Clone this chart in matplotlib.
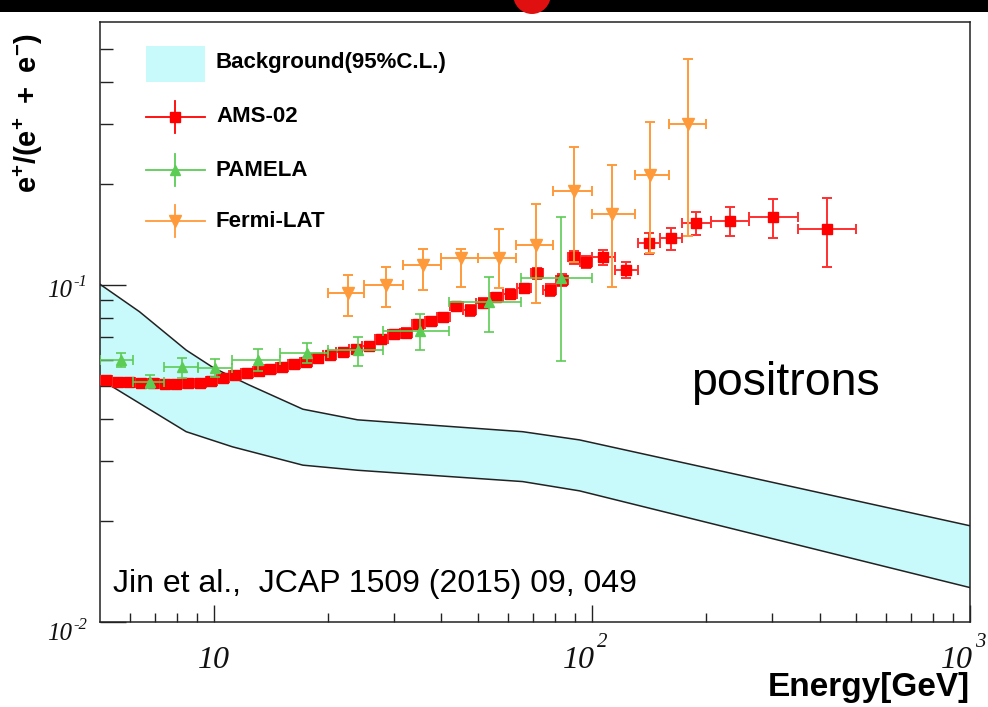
import numpy as np
import matplotlib
matplotlib.use('Agg')
import matplotlib.pyplot as plt
from matplotlib.patches import Rectangle, Ellipse
from matplotlib.ticker import FixedLocator, NullFormatter
from matplotlib.lines import Line2D
import matplotlib.transforms as mtransforms

plt.rcParams['font.family'] = ['Liberation Sans', 'DejaVu Sans']
plt.rcParams['mathtext.fontset'] = 'custom'
plt.rcParams['mathtext.bf'] = 'Liberation Sans:bold'
plt.rcParams['mathtext.rm'] = 'Liberation Sans:bold'
plt.rcParams['mathtext.it'] = 'Liberation Sans:bold:italic'

# ---------------- data ----------------
# Background band (95% C.L.)
bg_upper_E = [5.0, 6.36, 8.45, 10.0, 12.4, 17.2, 24.0, 65.6, 92.7, 1000.0]
bg_upper = [0.1005, 0.0833, 0.0641, 0.0567, 0.0505, 0.0428, 0.0398, 0.0367, 0.0347, 0.0193]
bg_lower_E = [5.0, 5.3, 6.48, 8.45, 11.2, 17.2, 24.0, 65.6, 92.7, 1000.0]
bg_lower = [0.0512, 0.0505, 0.0440, 0.0367, 0.0331, 0.0292, 0.0282, 0.0261, 0.0245, 0.01265]

# AMS-02
ams_edges = [5.00, 5.37, 5.77, 6.19, 6.65, 7.15, 7.68, 8.25, 8.86, 9.51, 10.2, 11.0, 11.8,
             12.7, 13.6, 14.6, 15.7, 16.9, 18.2, 19.5, 21.1, 22.8, 24.7, 26.7, 28.8, 31.1,
             33.5, 36.1, 38.9, 42.1, 45.6, 49.4, 53.6, 58.2, 63.3, 69.0, 74.3, 80.3, 86.5,
             93.0, 100.0, 115.1, 132.1, 151.5, 173.5, 206.0, 260.0, 350.0, 500.0]
ams_val = [0.05225, 0.05171, 0.05154, 0.05136, 0.05108, 0.05083, 0.05101, 0.05119, 0.0513,
           0.05189, 0.05279, 0.05389, 0.05482, 0.05546, 0.05623, 0.05720, 0.05830, 0.05922,
           0.06061, 0.06200, 0.06328, 0.06459, 0.06593, 0.06916, 0.07134, 0.07223, 0.07664,
           0.07823, 0.08013, 0.08665, 0.08401, 0.08844, 0.09182, 0.09404, 0.09763, 0.1083,
           0.09665, 0.1035, 0.1208, 0.1173, 0.1208, 0.1108, 0.1332, 0.1374, 0.1524, 0.1549,
           0.1588, 0.1469]
ams_err = [0.0012] * 10 + [0.0014] * 10 + [0.0018] * 5 + [0.0022] * 5 + [0.003] * 5 + \
          [0.004, 0.004, 0.004, 0.005, 0.005, 0.006, 0.006, 0.0095, 0.0105, 0.012, 0.0155,
           0.021, 0.034]

# PAMELA
pam_lo = [5.0, 6.1, 7.4, 9.1, 11.2, 15.0, 20.0, 28.0, 42.0, 65.0]
pam_hi = [6.1, 7.4, 9.1, 11.2, 15.0, 20.0, 28.0, 42.0, 65.0, 100.0]
pam_E = [5.69, 6.76, 8.23, 10.1, 13.1, 17.6, 24.0, 35.0, 53.4, 82.6]
pam_val = [0.0599, 0.0516, 0.0572, 0.0566, 0.0599, 0.0627, 0.0641, 0.0732, 0.0892, 0.1047]
pam_err_up = [0.0028, 0.0025, 0.0034, 0.0036, 0.0047, 0.0044, 0.0061, 0.0088, 0.0162, 0.0542]
pam_err_dn = [0.0027, 0.0021, 0.0044, 0.0032, 0.0042, 0.0041, 0.0066, 0.0091, 0.0165, 0.0451]

# Fermi-LAT
fermi_lo = [20, 25, 31.6, 40, 50, 63, 79, 100, 130, 160]
fermi_hi = [25, 31.6, 40, 50, 63, 79, 100, 130, 160, 200]
fermi_E = [22.6, 28.5, 35.7, 45.1, 56.7, 71.2, 89.6, 113, 142.7, 179]
fermi_val = [0.0945, 0.100, 0.1143, 0.120, 0.120, 0.1314, 0.190, 0.1624, 0.2113, 0.3014]
fermi_err_up = [0.0126, 0.0128, 0.0136, 0.0083, 0.0263, 0.0426, 0.066, 0.0651, 0.0937, 0.1676]
fermi_err_dn = [0.0136, 0.0138, 0.018, 0.0211, 0.0218, 0.0432, 0.073, 0.0639, 0.0873, 0.1617]

x_major = [10, 100, 1000]
x_label_base = ['10', '10', '10']
x_label_sup = ['', '2', '3']
y_major = [0.01, 0.1]
y_label_base = ['10', '10']
y_label_sup = ['-2', '-1']

C_AMS = '#ff0000'
C_AMS_E = '#ff3030'
C_PAM = '#5ccc55'
C_FERMI = '#ff9a3a'
C_BAND = '#c8f9fb'

# ---------------- figure ----------------
fig = plt.figure(figsize=(9.88, 7.07), dpi=100)
fig.patch.set_facecolor('white')
ax = fig.add_axes([100 / 988, 1 - 622 / 707, 870 / 988, 600 / 707])

# top slide banner
fig.patches.append(Rectangle((0, 1 - 12 / 707), 1, 12 / 707, transform=fig.transFigure,
                             facecolor='black', edgecolor='none', zorder=0))
fig.patches.append(Ellipse((532 / 988, 1 + 6 / 707), 38 / 988, 40 / 707, transform=fig.transFigure,
                           facecolor='#e01010', edgecolor='none', zorder=1))

ax.set_xscale('log')
ax.set_yscale('log')

# band
poly_x = list(bg_upper_E) + list(bg_lower_E[::-1])
poly_y = list(bg_upper) + list(bg_lower[::-1])
ax.fill(poly_x, poly_y, color=C_BAND, lw=0, zorder=1)
ax.plot(bg_upper_E, bg_upper, color='#222222', lw=1.1, zorder=1.5)
ax.plot(bg_lower_E, bg_lower, color='#222222', lw=1.1, zorder=1.5)

# AMS
edges = np.array(ams_edges)
lo, hi = edges[:-1], edges[1:]
ams_E = np.sqrt(lo * hi)
ax.errorbar(ams_E, ams_val, xerr=[ams_E - lo, hi - ams_E], yerr=ams_err, fmt='s',
            color=C_AMS, ecolor=C_AMS_E, ms=7.4, elinewidth=1.4, capsize=3.6, capthick=1.4,
            zorder=3)

# PAMELA
pE = np.array(pam_E)
ax.errorbar(pE, pam_val, xerr=[pE - np.array(pam_lo), np.array(pam_hi) - pE],
            yerr=[pam_err_dn, pam_err_up], fmt='^', color=C_PAM, ms=7.5,
            elinewidth=1.2, capsize=3.4, capthick=1.2, zorder=4)

# Fermi
fE = np.array(fermi_E)
ax.errorbar(fE, fermi_val, xerr=[fE - np.array(fermi_lo), np.array(fermi_hi) - fE],
            yerr=[fermi_err_dn, fermi_err_up], fmt='v', color=C_FERMI, ms=8,
            elinewidth=1.4, capsize=3.8, capthick=1.4, zorder=5)

ax.set_xlim(5, 1000)
ax.set_ylim(0.01, 0.603)

# ticks
ax.xaxis.set_major_locator(FixedLocator(x_major))
ax.xaxis.set_minor_locator(FixedLocator([6, 7, 8, 9, 20, 30, 40, 50, 60, 70, 80, 90,
                                         200, 300, 400, 500, 600, 700, 800, 900]))
ax.yaxis.set_major_locator(FixedLocator(y_major))
ax.yaxis.set_minor_locator(FixedLocator([0.02, 0.03, 0.04, 0.05, 0.06, 0.07, 0.08, 0.09,
                                         0.2, 0.3, 0.4, 0.5]))
for axis in (ax.xaxis, ax.yaxis):
    axis.set_major_formatter(NullFormatter())
    axis.set_minor_formatter(NullFormatter())
ax.tick_params(which='both', direction='in', top=False, right=False, width=1.0, color='#222222')
ax.xaxis.set_tick_params(which='major', length=12.5)
ax.xaxis.set_tick_params(which='minor', length=6.3)
ax.yaxis.set_tick_params(which='major', length=18.7)
ax.yaxis.set_tick_params(which='minor', length=9.4)
for s in ax.spines.values():
    s.set_linewidth(1.1)
    s.set_color('#222222')

# tick labels (ROOT style: italic serif with superscript exponent)
serif = dict(family='Liberation Serif', style='italic', color='#111111')
tx = mtransforms.blended_transform_factory(ax.transData, ax.transAxes)
for v, b, sp in zip(x_major, x_label_base, x_label_sup):
    if sp == '':
        ax.text(v, -0.0767, b, transform=tx, ha='center', va='baseline', fontsize=23,
                clip_on=False, **serif)
    else:
        t1 = tx + mtransforms.ScaledTranslation(2.0 / 72, 0, fig.dpi_scale_trans)
        ax.text(v, -0.0767, b, transform=t1, ha='right', va='baseline', fontsize=23,
                clip_on=False, **serif)
        t2 = tx + mtransforms.ScaledTranslation(3.8 / 72, 15 / 72, fig.dpi_scale_trans)
        ax.text(v, -0.0767, sp, transform=t2, ha='left', va='baseline', fontsize=15,
                clip_on=False, **serif)

ty = mtransforms.blended_transform_factory(ax.transAxes, ax.transData)
y_drop_pt = [13.0, 8.6]
for v, b, sp, d in zip(y_major, y_label_base, y_label_sup, y_drop_pt):
    t1 = ty + mtransforms.ScaledTranslation(-28 / 100, -d / 72, fig.dpi_scale_trans)
    ax.text(0, v, b, transform=t1, ha='right', va='baseline', fontsize=18, clip_on=False,
            **serif)
    t2 = ty + mtransforms.ScaledTranslation(-27 / 100, (-d + 8) / 72, fig.dpi_scale_trans)
    ax.text(0, v, sp, transform=t2, ha='left', va='baseline', fontsize=12, clip_on=False,
            **serif)

# axis titles
ax.text(-0.082, 0.982, r'$\mathbf{e^{+}/(e^{+}\ +\ e^{-})}$', transform=ax.transAxes,
        rotation=90, ha='center', va='top', fontsize=21)
fig.text(970 / 988, 1 - 696 / 707, 'Energy[GeV]', ha='right', va='baseline',
         fontsize=24, fontweight='bold')

# legend (manual, ROOT style)
ax.add_patch(Rectangle((0.0525, 0.900), 0.0682, 0.0605, transform=ax.transAxes,
                       facecolor=C_BAND, edgecolor='none', zorder=6))
rows = [(0.8417, C_AMS, 's', 6.8, 'AMS-02'),
        (0.7533, C_PAM, '^', 7.5, 'PAMELA'),
        (0.6683, C_FERMI, 'v', 8, 'Fermi-LAT')]
ax.text(0.1333, 0.9317, 'Background(95%C.L.)', transform=ax.transAxes, ha='left',
        va='center', fontsize=16, fontweight='bold', zorder=6)
for yy, c, m, ms, lab in rows:
    ax.add_line(Line2D([0.0525, 0.1207], [yy, yy], transform=ax.transAxes, color=c, lw=1.3,
                       zorder=6))
    ax.add_line(Line2D([0.0866, 0.0866], [yy - 0.026, yy + 0.026], transform=ax.transAxes,
                       color=c, lw=1.3, zorder=6))
    ax.add_line(Line2D([0.0866], [yy], transform=ax.transAxes, color=c, marker=m, ms=ms,
                       lw=0, zorder=7))
    ax.text(0.1333, yy, lab, transform=ax.transAxes, ha='left', va='center', fontsize=16,
            fontweight='bold', zorder=6)

# annotations
ax.text((690.7 - 100) / 870, (622 - 395) / 600, 'positrons', transform=ax.transAxes,
        ha='left', va='baseline', fontsize=33.5, zorder=6)
ax.text((112.5 - 100) / 870, (622 - 592) / 600, 'Jin et al.,  JCAP 1509 (2015) 09, 049',
        transform=ax.transAxes, ha='left', va='baseline', fontsize=23, zorder=6)

fig.savefig('out.png', dpi=100)
